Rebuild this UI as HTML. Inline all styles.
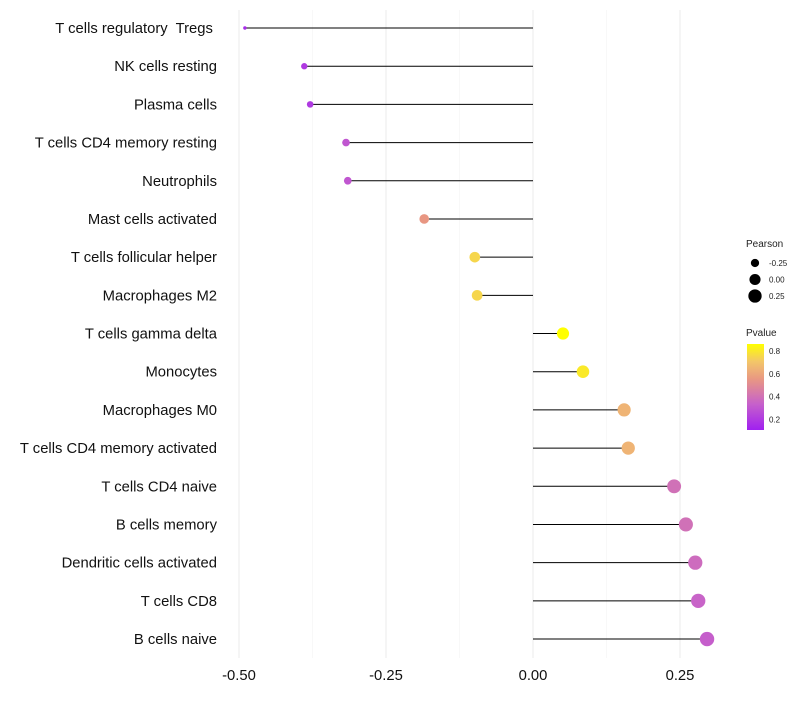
<!DOCTYPE html>
<html><head><meta charset="utf-8"><style>
body{margin:0;background:#fff;font-family:"Liberation Sans",sans-serif}
</style></head><body>
<svg id="chart" width="800" height="700" xmlns="http://www.w3.org/2000/svg"></svg>
<script>
const categories=["T cells regulatory  Tregs ","NK cells resting","Plasma cells","T cells CD4 memory resting","Neutrophils","Mast cells activated","T cells follicular helper","Macrophages M2","T cells gamma delta","Monocytes","Macrophages M0","T cells CD4 memory activated","T cells CD4 naive","B cells memory","Dendritic cells activated","T cells CD8","B cells naive"];
const pearson=[-0.490,-0.389,-0.379,-0.318,-0.315,-0.185,-0.099,-0.095,0.051,0.085,0.155,0.162,0.240,0.260,0.276,0.281,0.296];
const pvalue=[0.15,0.2,0.2,0.3,0.3,0.55,0.75,0.75,0.86,0.8,0.65,0.65,0.4,0.4,0.38,0.35,0.33];
const xTicks=[-0.5,-0.25,0,0.25];
const xTickLabels=["-0.50","-0.25","0.00","0.25"];
const sizeLegend=[-0.25,0,0.25];
const pLegend=[0.8,0.6,0.4,0.2];

const NS="http://www.w3.org/2000/svg";
const svg=document.getElementById('chart');
const X=v=>533+v*588;
const Y=i=>28+i*38.19;
const vmin=Math.min(...pearson),vmax=Math.max(...pearson);
const R=v=>{const t=Math.max(0,Math.min(1,(v-vmin)/(vmax-vmin)));return 1.1*Math.sqrt(1+35*t)+0.6;};
const stops=[[0.11,[160,32,240]],[0.35,[200,100,200]],[0.55,[232,150,130]],[0.7,[242,195,110]],[0.86,[255,255,0]]];
function col(p){if(p<=stops[0][0])return 'rgb('+stops[0][1]+')';for(let i=1;i<stops.length;i++){if(p<=stops[i][0]){const a=stops[i-1],b=stops[i],t=(p-a[0])/(b[0]-a[0]);return 'rgb('+a[1].map((c,k)=>Math.round(c+(b[1][k]-c)*t)).join(',')+')';}}return 'rgb('+stops[stops.length-1][1]+')';}
function el(t,a,txt){const e=document.createElementNS(NS,t);for(const k in a)e.setAttribute(k,a[k]);if(txt!==undefined)e.textContent=txt;svg.appendChild(e);return e;}
for(let v=-0.5;v<=0.26;v+=0.125){const major=Math.abs(v*4-Math.round(v*4))<1e-6;
const g=el('line',{x1:X(v),x2:X(v),y1:10,y2:658,stroke:major?'#ebebeb':'#f4f4f4','stroke-width':major?1:0.6});

}
xTicks.forEach((v,i)=>{const t=el('text',{x:X(v),y:680,'text-anchor':'middle','font-size':14.8,fill:'#111'},xTickLabels[i]);

});
categories.forEach((c,i)=>{
const t=el('text',{x:217,y:Y(i)+5,'text-anchor':'end','font-size':14.8,fill:'#111',style:'white-space:pre'},c);


const l=el('line',{x1:X(0),x2:X(pearson[i]),y1:Y(i),y2:Y(i),stroke:'#000','stroke-width':1});


const p=el('circle',{cx:X(pearson[i]),cy:Y(i),r:R(pearson[i]),fill:col(pvalue[i])});


});
let t=el('text',{x:746,y:247,'font-size':10,fill:'#222'},'Pearson');


sizeLegend.forEach((v,i)=>{const y=263+i*16.5;
const c=el('circle',{cx:755,cy:y,r:R(v)*0.95,fill:'#000'});


const tt=el('text',{x:769,y:y+3,'font-size':8,fill:'#222'},v===0?'0.00':v.toFixed(2));

});
t=el('text',{x:746,y:336,'font-size':10,fill:'#222'},'Pvalue');


const defs=el('defs',{});
const lg=document.createElementNS(NS,'linearGradient');lg.setAttribute('id','pg');lg.setAttribute('x1','0');lg.setAttribute('y1','1');lg.setAttribute('x2','0');lg.setAttribute('y2','0');defs.appendChild(lg);
for(let k=0;k<=10;k++){const p=0.11+k*0.075;const s=document.createElementNS(NS,'stop');s.setAttribute('offset',k/10);s.setAttribute('stop-color',col(p));lg.appendChild(s);}
const bar=el('rect',{x:747,y:344,width:17,height:86,fill:'url(#pg)'});


pLegend.forEach(v=>{const y=430-(v-0.11)/0.75*86;
const tt=el('text',{x:769,y:y+3,'font-size':8,fill:'#222'},v.toFixed(1));

});
</script>
</body></html>
